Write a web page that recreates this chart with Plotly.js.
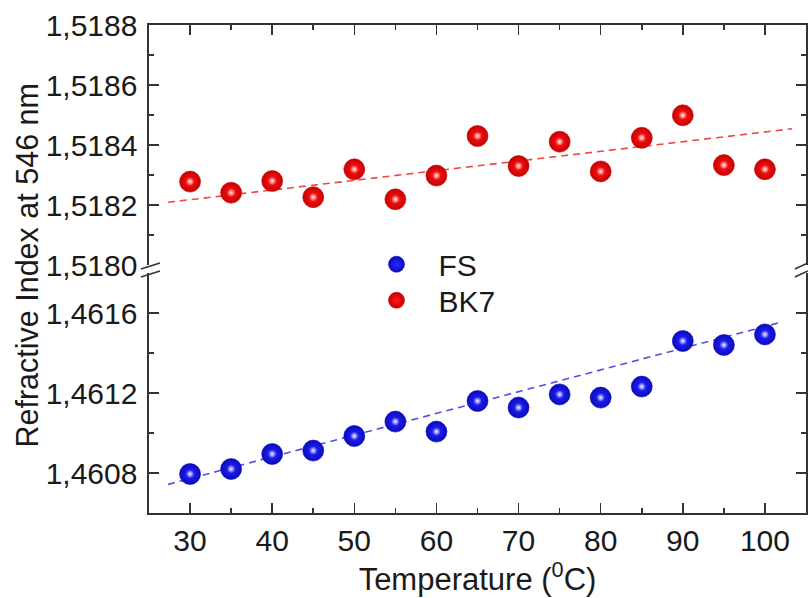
<!DOCTYPE html>
<html>
<head>
<meta charset="utf-8">
<script src="https://cdn.plot.ly/plotly-3.0.1.min.js"></script>
<style>html,body{margin:0;padding:0;background:#fff;}#chart{width:808px;height:598px;}</style>
</head>
<body>
<div id="chart"></div>
<script>
// Data
const temperature = [30, 35, 40, 45, 50, 55, 60, 65, 70, 75, 80, 85, 90, 95, 100];
const fsIndex = [1.460795, 1.460820, 1.460895, 1.460912, 1.460985, 1.461057, 1.461007, 1.461160, 1.461127, 1.461193, 1.461177, 1.461232, 1.461460, 1.461440, 1.461493];
const bk7Index = [1.518278, 1.518241, 1.518280, 1.518226, 1.518319, 1.518219, 1.518298, 1.518430, 1.518330, 1.518411, 1.518312, 1.518424, 1.518499, 1.518333, 1.518319];
const fsFitX = [27.3, 101.8];
const fsFitY = [1.460743, 1.461552];
const bk7FitX = [27.3, 103.3];
const bk7FitY = [1.518209, 1.518454];
const seriesNames = ['FS', 'BK7'];

const FONT = 'Liberation Sans, Arial, sans-serif';
const TXT = '#1a1a1a';
const AX = '#333333';

function sphere(x, y, yaxis, name, edge, mid, legendId) {
  return [
    {x: x, y: y, xaxis: yaxis === 'y' ? 'x' : 'x2', yaxis: yaxis, type: 'scatter', mode: 'markers', name: name,
     showlegend: true, legend: legendId, cliponaxis: false,
     marker: {size: 21, color: edge, line: {width: 0.6, color: edge},
              gradient: {type: 'radial', color: mid}}},
    {x: x, y: y, xaxis: yaxis === 'y' ? 'x' : 'x2', yaxis: yaxis, type: 'scatter', mode: 'markers',
     showlegend: false, hoverinfo: 'skip', cliponaxis: false,
     marker: {size: 8, color: mid, line: {width: 0},
              gradient: {type: 'radial', color: 'rgba(255,255,255,0.95)'}}}
  ];
}

const fsTraces = sphere(temperature, fsIndex, 'y', seriesNames[0], 'rgb(10,10,190)', 'rgb(40,40,255)', 'legend');
const bk7Traces = sphere(temperature, bk7Index, 'y2', seriesNames[1], 'rgb(200,0,0)', 'rgb(255,25,25)', 'legend2');

const data = [
  {x: fsFitX, y: fsFitY, xaxis: 'x', yaxis: 'y', mode: 'lines', showlegend: false, hoverinfo: 'skip',
   line: {color: 'rgb(80,80,230)', width: 1.6, dash: '7px,5px'}},
  {x: bk7FitX, y: bk7FitY, xaxis: 'x2', yaxis: 'y2', mode: 'lines', showlegend: false, hoverinfo: 'skip',
   line: {color: 'rgb(240,70,70)', width: 1.6, dash: '7px,5px'}},
  fsTraces[0], bk7Traces[0], fsTraces[1], bk7Traces[1]
];

const axisCommon = {
  showline: true, linecolor: AX, linewidth: 1.6, showgrid: false, zeroline: false,
  ticks: 'inside', ticklen: 10, tickwidth: 1.6, tickcolor: AX,
  tickfont: {family: FONT, size: 30, color: TXT}
};

const legendCommon = {xanchor: 'left', yanchor: 'top', bgcolor: 'rgba(0,0,0,0)', itemwidth: 74,
                      font: {family: FONT, size: 30, color: TXT}};

const layout = {
  width: 808, height: 598,
  margin: {l: 149, r: 2, t: 25, b: 85},
  paper_bgcolor: '#ffffff', plot_bgcolor: '#ffffff',
  separators: ', ',
  font: {family: FONT, color: TXT},
  showlegend: true,
  legend: Object.assign({}, legendCommon, {x: 0.3128, y: 0.563}),
  legend2: Object.assign({}, legendCommon, {x: 0.3128, y: 0.4892}),
  xaxis: Object.assign({}, axisCommon, {
    anchor: 'y', range: [25, 105], dtick: 10, tick0: 0,
    minor: {dtick: 5, ticks: 'inside', ticklen: 5, tickwidth: 1.6, tickcolor: AX},
    title: {text: 'Temperature (<sup>0</sup>C)', font: {family: FONT, size: 31, color: TXT}, standoff: 3}
  }),
  xaxis2: Object.assign({}, axisCommon, {
    anchor: 'y2', matches: 'x', side: 'top', showticklabels: false, range: [25, 105], dtick: 10, tick0: 0,
    minor: {dtick: 5, ticks: 'inside', ticklen: 5, tickwidth: 1.6, tickcolor: AX}
  }),
  yaxis: Object.assign({}, axisCommon, {
    domain: [0, 0.4918], range: [1.4606, 1.4618], tick0: 1.4608, dtick: 0.0004, tickformat: '.4f',
    mirror: 'allticks', ticklabelstandoff: 4,
    minor: {dtick: 0.0002, tick0: 1.4606, ticks: 'inside', ticklen: 5, tickwidth: 1.6, tickcolor: AX}
  }),
  yaxis2: Object.assign({}, axisCommon, {
    domain: [0.5082, 1], range: [1.5180, 1.5188], tick0: 1.5180, dtick: 0.0002, tickformat: '.4f',
    mirror: 'allticks', ticklabelstandoff: 4, anchor: 'x2',
    minor: {dtick: 0.0001, tick0: 1.5180, ticks: 'inside', ticklen: 5, tickwidth: 1.6, tickcolor: AX}
  }),
  annotations: [{
    text: 'Refractive Index at 546 nm', xref: 'paper', yref: 'paper', x: -0.185, y: 0.508,
    xanchor: 'center', yanchor: 'middle', textangle: -90, showarrow: false,
    font: {family: FONT, size: 30.5, color: TXT}
  }],
  shapes: [
    {type: 'line', xref: 'paper', yref: 'paper', x0: -0.0122, y0: 0.500, x1: 0.0167, y1: 0.5123, line: {color: AX, width: 1.6}},
    {type: 'line', xref: 'paper', yref: 'paper', x0: -0.0122, y0: 0.4836, x1: 0.0167, y1: 0.4959, line: {color: AX, width: 1.6}},
    {type: 'line', xref: 'paper', yref: 'paper', x0: 0.983, y0: 0.500, x1: 1.003, y1: 0.5123, line: {color: AX, width: 1.6}},
    {type: 'line', xref: 'paper', yref: 'paper', x0: 0.983, y0: 0.4836, x1: 1.003, y1: 0.4959, line: {color: AX, width: 1.6}}
  ]
};

Plotly.newPlot('chart', data, layout, {displayModeBar: false, staticPlot: true});
</script>
</body>
</html>
